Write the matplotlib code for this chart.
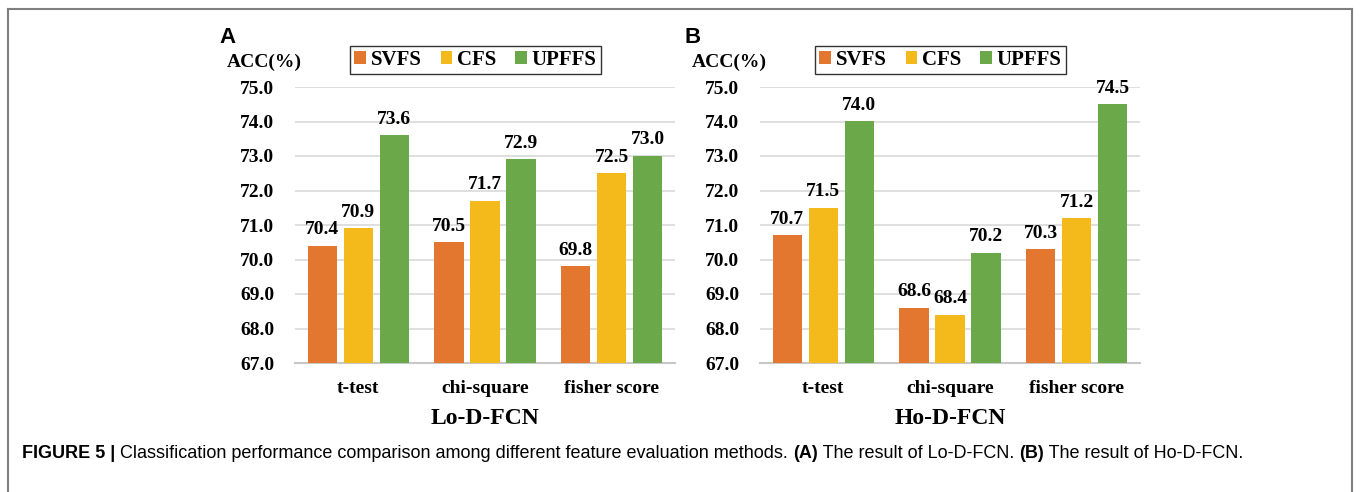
"""
Classification performance comparison (Lo-D-FCN / Ho-D-FCN)
"""
import matplotlib
matplotlib.use('Agg')
import matplotlib.pyplot as plt
from matplotlib.patches import Patch
import numpy as np

plt.rcParams['font.family'] = ['Liberation Serif', 'DejaVu Serif']
plt.rcParams['font.weight'] = 'bold'

# ---- data ----
methods = ['t-test', 'chi-square', 'fisher score']
series = ['SVFS', 'CFS', 'UPFFS']
lo_svfs = [70.4, 70.5, 69.8]
lo_cfs = [70.9, 71.7, 72.5]
lo_upffs = [73.6, 72.9, 73.0]
ho_svfs = [70.7, 68.6, 70.3]
ho_cfs = [71.5, 68.4, 71.2]
ho_upffs = [74.0, 70.2, 74.5]
yticks = [67.0, 68.0, 69.0, 70.0, 71.0, 72.0, 73.0, 74.0, 75.0]

colors = ['#E4772F', '#F4BA1B', '#6AA84A']
grid_col = '#D9D9D9'

fig = plt.figure(figsize=(13.6, 4.92), dpi=100)

# outer frame (left, top, right only)
fx0, fx1, fy = 8 / 1360, 1352 / 1360, 1 - 9 / 492
for xs, ys in [([fx0, fx0], [0, fy]), ([fx0, fx1], [fy, fy]), ([fx1, fx1], [0, fy])]:
    fig.add_artist(plt.Line2D(xs, ys, transform=fig.transFigure, color='#7F7F7F', lw=1.5))


def draw_panel(left, vals, xlabel, letter):
    ax = fig.add_axes([left / 1360, 1 - 363 / 492, 380 / 1360, 276 / 492])
    x = np.arange(len(methods))
    w = 0.23
    step = 0.284
    for k, (v, c) in enumerate(zip(vals, colors)):
        pos = x + (k - 1) * step
        ax.bar(pos, [vv - 67.0 for vv in v], w, bottom=67.0, color=c, zorder=3)
        for px, vv in zip(pos, v):
            ax.text(px, vv + 0.22, f'{vv:.1f}', ha='center', va='bottom',
                    fontsize=14, fontweight='bold', zorder=4)
    ax.set_xlim(-0.5, 2.5)
    ax.set_ylim(67.0, 75.0)
    ax.set_yticks(yticks)
    ax.set_yticklabels([f'{t:.1f}' for t in yticks], fontsize=14, fontweight='bold')
    ax.set_xticks(x)
    ax.set_xticklabels(methods, fontsize=14, fontweight='bold')
    ax.tick_params(axis='both', length=0)
    ax.tick_params(axis='y', pad=15)
    ax.tick_params(axis='x', pad=12)
    ax.grid(axis='y', color=grid_col, lw=1.2, zorder=0)
    for s in ['top', 'right', 'left']:
        ax.spines[s].set_visible(False)
    ax.spines['bottom'].set_color('#C8C8C8')
    ax.spines['bottom'].set_linewidth(1.5)
    ax.set_xlabel(xlabel, fontsize=17, fontweight='bold', labelpad=8)
    ax.text(0.018, 1.09, 'ACC(%)', transform=ax.transAxes, ha='right', va='center',
            fontsize=14, fontweight='bold')
    ax.text(-0.2, 1.18, letter, transform=ax.transAxes, ha='left', va='center',
            fontsize=16, fontweight='bold', family=['Liberation Sans', 'DejaVu Sans'])
    handles = [Patch(facecolor=c, edgecolor='none') for c in colors]
    leg = ax.legend(handles, series, loc='center', bbox_to_anchor=(0.475, 1.098), ncol=3,
                    frameon=True, fancybox=False, edgecolor='black', fontsize=15,
                    handlelength=0.55, handleheight=0.55, handletextpad=0.25,
                    columnspacing=0.9, borderpad=0.2, borderaxespad=0)
    leg.get_frame().set_linewidth(1.0)
    for t in leg.get_texts():
        t.set_fontweight('bold')
    return ax


ax_a = draw_panel(295, [lo_svfs, lo_cfs, lo_upffs], 'Lo-D-FCN', 'A')
ax_b = draw_panel(760, [ho_svfs, ho_cfs, ho_upffs], 'Ho-D-FCN', 'B')

# caption: bold / normal pieces chained one after another
cap_font = ['Liberation Sans', 'DejaVu Sans']
pieces = [('FIGURE 5 |', 'bold'),
          (' Classification performance comparison among different feature evaluation methods. ', 'normal'),
          ('(A)', 'bold'),
          (' The result of Lo-D-FCN. ', 'normal'),
          ('(B)', 'bold'),
          (' The result of Ho-D-FCN.', 'normal')]
anchor = fig.text(22 / 1360, 1 - 462 / 492, pieces[0][0], ha='left', va='bottom',
                  fontsize=13, fontweight=pieces[0][1], family=cap_font)
for txt, wt in pieces[1:]:
    anchor = ax_a.annotate(txt, xy=(1, 0), xycoords=anchor, va='bottom', ha='left',
                           fontsize=13, fontweight=wt, family=cap_font,
                           annotation_clip=False)

plt.savefig('out.png', dpi=100, facecolor='white')
plt.close()
